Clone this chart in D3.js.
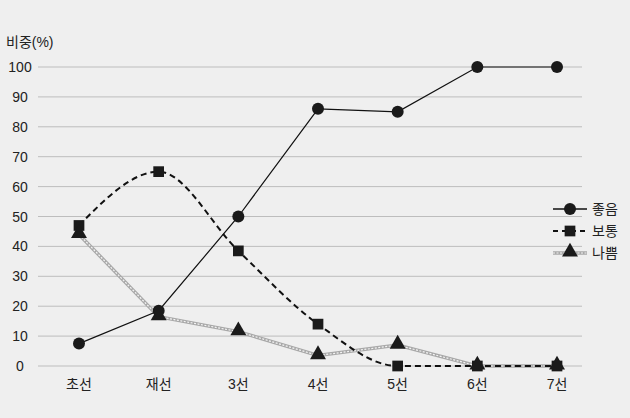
<!DOCTYPE html>
<html>
<head>
<meta charset="utf-8">
<script src="https://cdn.jsdelivr.net/npm/d3@7"></script>
<style>
  body { margin: 0; background: #efefef; }
  text { font-family: "Liberation Sans", "Noto Sans CJK KR", sans-serif; fill: #222; }
</style>
</head>
<body>
<div id="container"></div>
<script>
// data
const categories = ["초선", "재선", "3선", "4선", "5선", "6선", "7선"];
const good = [7.5, 18.5, 50, 86, 85, 100, 100];
const normal = [47, 65, 38.5, 14, 0, 0, 0];
const bad = [44, 16.5, 11.5, 3.5, 7, 0, 0];
const yTicks = [0, 10, 20, 30, 40, 50, 60, 70, 80, 90, 100];
const seriesNames = ["좋음", "보통", "나쁨"];

// set dimensions
const w = 630;
const h = 418;

const xScale = d3.scalePoint()
                 .domain(categories)
                 .range([79, 557]);
const yScale = d3.scaleLinear()
                 .domain([0, 100])
                 .range([366, 67]);

const svg = d3.select("#container")
              .append("svg")
              .attr("width", w)
              .attr("height", h);

svg.append("rect")
   .attr("width", w)
   .attr("height", h)
   .attr("fill", "#efefef");

// grid lines
svg.selectAll(".grid")
   .data(yTicks)
   .enter()
   .append("line")
   .attr("x1", 38)
   .attr("x2", 582)
   .attr("y1", (d) => yScale(d))
   .attr("y2", (d) => yScale(d))
   .attr("stroke", "#bdbdbd")
   .attr("stroke-width", 1);

// y tick labels
svg.selectAll(".ylab")
   .data(yTicks)
   .enter()
   .append("text")
   .attr("x", 20)
   .attr("y", (d) => yScale(d) + 5)
   .attr("text-anchor", "middle")
   .style("font-size", "14px")
   .text((d) => d);

// y title
svg.append("text")
   .attr("x", 6)
   .attr("y", 47)
   .style("font-size", "14px")
   .text("비중(%)");

// x labels
svg.selectAll(".xlab")
   .data(categories)
   .enter()
   .append("text")
   .attr("x", (d) => xScale(d))
   .attr("y", 389)
   .attr("text-anchor", "middle")
   .style("font-size", "14px")
   .text((d) => d);

const pts = (arr) => arr.map((v, i) => [xScale(categories[i]), yScale(v)]);

// 나쁨 line (gray chain)
const straight = d3.line();
svg.append("path")
   .attr("d", straight(pts(bad)))
   .attr("fill", "none")
   .attr("stroke", "#a8a8a8")
   .attr("stroke-width", 3.5);
svg.append("path")
   .attr("d", straight(pts(bad)))
   .attr("fill", "none")
   .attr("stroke", "#f4f4f4")
   .attr("stroke-width", 1.2)
   .attr("stroke-dasharray", "2,1.5");

// 보통 line (dashed curve)
const curved = d3.line().curve(d3.curveMonotoneX);
svg.append("path")
   .attr("d", curved(pts(normal)))
   .attr("fill", "none")
   .attr("stroke", "#111")
   .attr("stroke-width", 2)
   .attr("stroke-dasharray", "6,4");

// 좋음 line
svg.append("path")
   .attr("d", straight(pts(good)))
   .attr("fill", "none")
   .attr("stroke", "#111")
   .attr("stroke-width", 1.2);

// markers
const triangle = d3.symbol().type(d3.symbolTriangle).size(110);
const square = d3.symbol().type(d3.symbolSquare).size(115);

svg.selectAll(".sq")
   .data(pts(normal))
   .enter()
   .append("path")
   .attr("d", square)
   .attr("transform", (d) => "translate(" + d[0] + "," + d[1] + ")")
   .attr("fill", "#1a1a1a");

svg.selectAll(".tri")
   .data(pts(bad))
   .enter()
   .append("path")
   .attr("d", triangle)
   .attr("transform", (d) => "translate(" + d[0] + "," + (d[1] - 1) + ")")
   .attr("fill", "#1a1a1a");

svg.selectAll(".dot")
   .data(pts(good))
   .enter()
   .append("circle")
   .attr("cx", (d) => d[0])
   .attr("cy", (d) => d[1])
   .attr("r", 6)
   .attr("fill", "#1a1a1a");

// legend
const ly = [209, 231, 253];
// 좋음
svg.append("line").attr("x1", 553).attr("x2", 587).attr("y1", ly[0]).attr("y2", ly[0])
   .attr("stroke", "#111").attr("stroke-width", 1.5);
svg.append("circle").attr("cx", 570).attr("cy", ly[0]).attr("r", 6).attr("fill", "#1a1a1a");
// 보통
svg.append("line").attr("x1", 553).attr("x2", 587).attr("y1", ly[1]).attr("y2", ly[1])
   .attr("stroke", "#111").attr("stroke-width", 2).attr("stroke-dasharray", "5,4");
svg.append("path").attr("d", square).attr("transform", "translate(570," + ly[1] + ")").attr("fill", "#1a1a1a");
// 나쁨
svg.append("line").attr("x1", 553).attr("x2", 587).attr("y1", ly[2]).attr("y2", ly[2])
   .attr("stroke", "#a8a8a8").attr("stroke-width", 3.5);
svg.append("line").attr("x1", 553).attr("x2", 587).attr("y1", ly[2]).attr("y2", ly[2])
   .attr("stroke", "#f4f4f4").attr("stroke-width", 1.2).attr("stroke-dasharray", "2,1.5");
svg.append("path").attr("d", triangle).attr("transform", "translate(570," + (ly[2] - 1) + ")").attr("fill", "#1a1a1a");

seriesNames.forEach(function(name, i){
    svg.append("text")
       .attr("x", 592)
       .attr("y", ly[i] + 5)
       .style("font-size", "14px")
       .text(name);
});
</script>
</body>
</html>
